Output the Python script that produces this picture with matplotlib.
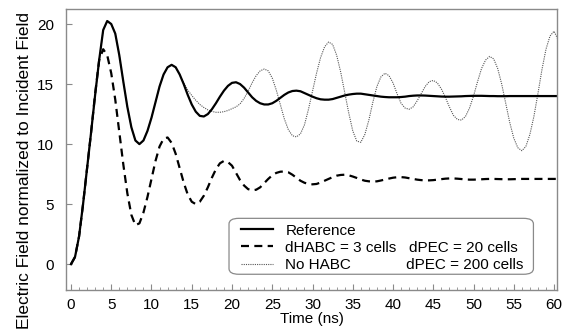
import matplotlib
matplotlib.use("Agg")
import matplotlib.pyplot as plt
from matplotlib.patches import FancyBboxPatch
from matplotlib.ticker import MultipleLocator

plt.rcParams['font.family'] = ['Liberation Sans', 'DejaVu Sans']
plt.rcParams['font.size'] = 11

# sample times (ns)
time_ns = [0.0, 0.5, 1.0, 1.5, 2.0, 2.5, 3.0, 3.5, 4.0, 4.5,
           5.0, 5.5, 6.0, 6.5, 7.0, 7.5, 8.0, 8.5, 9.0, 9.5,
           10.0, 10.5, 11.0, 11.5, 12.0, 12.5, 13.0, 13.5, 14.0, 14.5,
           15.0, 15.5, 16.0, 16.5, 17.0, 17.5, 18.0, 18.5, 19.0, 19.5,
           20.0, 20.5, 21.0, 21.5, 22.0, 22.5, 23.0, 23.5, 24.0, 24.5,
           25.0, 25.5, 26.0, 26.5, 27.0, 27.5, 28.0, 28.5, 29.0, 29.5,
           30.0, 30.5, 31.0, 31.5, 32.0, 32.5, 33.0, 33.5, 34.0, 34.5,
           35.0, 35.5, 36.0, 36.5, 37.0, 37.5, 38.0, 38.5, 39.0, 39.5,
           40.0, 40.5, 41.0, 41.5, 42.0, 42.5, 43.0, 43.5, 44.0, 44.5,
           45.0, 45.5, 46.0, 46.5, 47.0, 47.5, 48.0, 48.5, 49.0, 49.5,
           50.0, 50.5, 51.0, 51.5, 52.0, 52.5, 53.0, 53.5, 54.0, 54.5,
           55.0, 55.5, 56.0, 56.5, 57.0, 57.5, 58.0, 58.5, 59.0, 59.5,
           60.0, 60.5]

reference = [0.0, 0.6, 2.3, 5.0, 8.0, 11.0, 14.1, 17.0, 19.5, 20.25,
             20.0, 19.2, 17.4, 15.2, 13.1, 11.4, 10.3, 10.0, 10.3, 11.1,
             12.2, 13.5, 14.8, 15.8, 16.4, 16.6, 16.4, 15.8, 15.0, 14.1,
             13.3, 12.7, 12.35, 12.3, 12.5, 12.9, 13.4, 13.95, 14.45, 14.85,
             15.1, 15.15, 15.0, 14.7, 14.3, 13.9, 13.6, 13.4, 13.3, 13.3,
             13.4, 13.6, 13.85, 14.1, 14.3, 14.42, 14.45, 14.4, 14.25, 14.1,
             13.95, 13.82, 13.73, 13.7, 13.7, 13.75, 13.85, 13.95, 14.05, 14.12,
             14.17, 14.2, 14.2, 14.15, 14.1, 14.05, 14.0, 13.95, 13.92, 13.9,
             13.9, 13.9, 13.92, 13.95, 14.0, 14.03, 14.05, 14.05, 14.04, 14.02,
             14.0, 13.98, 13.96, 13.95, 13.95, 13.96, 13.97, 13.98, 14.0, 14.01,
             14.02, 14.02, 14.02, 14.01, 14.0, 14.0, 13.99, 13.99, 13.99, 14.0,
             14.0, 14.0, 14.0, 14.0, 14.0, 14.0, 14.0, 14.0, 14.0, 14.0,
             14.0, 14.0]

habc_3 = [0.0, 0.6, 2.3, 5.0, 8.0, 11.0, 14.2, 17.0, 17.9, 17.4,
          15.9, 13.7, 11.0, 8.3, 5.9, 4.1, 3.25, 3.4, 4.3, 5.6,
          7.1, 8.6, 9.8, 10.45, 10.55, 10.1, 9.2, 8.0, 6.8, 5.8,
          5.2, 5.0, 5.2, 5.7, 6.4, 7.2, 7.9, 8.4, 8.6, 8.5,
          8.2, 7.6, 7.0, 6.55, 6.25, 6.15, 6.2, 6.4, 6.75, 7.1,
          7.4, 7.6, 7.7, 7.72, 7.65, 7.45, 7.2, 6.95, 6.78, 6.68,
          6.65, 6.68, 6.8, 6.95, 7.1, 7.25, 7.37, 7.43, 7.45, 7.4,
          7.3, 7.18, 7.05, 6.95, 6.9, 6.88, 6.9, 6.97, 7.05, 7.13,
          7.2, 7.24, 7.25, 7.22, 7.16, 7.1, 7.04, 7.0, 6.98, 6.98,
          7.0, 7.04, 7.08, 7.12, 7.14, 7.14, 7.12, 7.09, 7.06, 7.04,
          7.04, 7.05, 7.07, 7.09, 7.1, 7.1, 7.09, 7.08, 7.07, 7.07,
          7.08, 7.09, 7.1, 7.1, 7.1, 7.1, 7.1, 7.1, 7.1, 7.1,
          7.1, 7.1]

no_habc = [0.0, 0.6, 2.3, 5.0, 8.0, 11.0, 14.1, 17.0, 19.5, 20.25,
           20.0, 19.2, 17.4, 15.2, 13.1, 11.4, 10.3, 10.0, 10.3, 11.1,
           12.2, 13.5, 14.8, 15.8, 16.4, 16.6, 16.4, 15.8, 15.1, 14.5,
           14.05, 13.65, 13.3, 13.05, 12.85, 12.72, 12.65, 12.65, 12.7, 12.8,
           12.95, 13.1, 13.35, 13.8, 14.4, 15.1, 15.7, 16.1, 16.25, 16.1,
           15.5, 14.5, 13.3, 12.1, 11.2, 10.7, 10.6, 10.85, 11.6, 12.9,
           14.4, 15.9, 17.2, 18.1, 18.5, 18.3, 17.4, 16.0, 14.3, 12.6,
           11.1, 10.25, 10.15, 10.8, 12.0, 13.5, 14.8, 15.6, 15.9, 15.7,
           15.1, 14.2, 13.4, 13.0, 12.9, 13.1, 13.6, 14.2, 14.8, 15.2,
           15.3, 15.1, 14.6, 13.9, 13.1, 12.4, 12.05, 12.0, 12.3, 13.0,
           14.0, 15.2, 16.3, 17.0, 17.3, 17.1, 16.3, 15.0, 13.4, 11.8,
           10.5, 9.7, 9.45, 9.8, 10.8, 12.3, 14.2, 16.2, 17.9, 19.0,
           19.4, 18.7]

labels = ["Reference",
          "dHABC = 3 cells   dPEC = 20 cells",
          "No HABC             dPEC = 200 cells"]

W, H = 565, 329
fig = plt.figure(figsize=(W / 100, H / 100), dpi=100)
ax = fig.add_axes([66 / W, (H - 290) / H, (557 - 66) / W, (290 - 9) / H])

l3, = ax.plot(time_ns, no_habc, color='#555555', lw=0.8, ls=(0, (1, 1)))
l2, = ax.plot(time_ns, habc_3, color='black', lw=1.6, ls=(0, (3.6, 2.4)))
l1, = ax.plot(time_ns, reference, color='black', lw=1.6)

ax.set_xlim(-0.62, 60.37)
ax.set_ylim(-2.15, 21.25)
ax.xaxis.set_major_locator(MultipleLocator(5))
ax.xaxis.set_minor_locator(MultipleLocator(1))
ax.yaxis.set_major_locator(MultipleLocator(5))

for s in ax.spines.values():
    s.set_color('#8a8a8a')
    s.set_linewidth(1.0)
ax.tick_params(axis='both', which='both', direction='in', color='#8a8a8a')
ax.tick_params(axis='x', which='major', length=4, pad=6)
ax.tick_params(axis='x', which='minor', length=2)
ax.tick_params(axis='y', which='major', length=4, pad=8.5)

ax.set_xlabel("Time (ns)", labelpad=0)
ax.set_ylabel("Electric Field normalized to Incident Field", fontsize=12.5)
ax.yaxis.set_label_coords(-0.07, 0.427)

# legend box drawn separately so its padding can differ from the text padding
box = FancyBboxPatch((0.332, 0.056), 0.62, 0.199, transform=ax.transAxes,
                     boxstyle="round,pad=0,rounding_size=0.02",
                     facecolor='white', edgecolor='#8a8a8a', lw=0.9, zorder=4)
ax.add_patch(box)
leg = ax.legend([l1, l2, l3], labels, loc='upper left',
                bbox_to_anchor=(0.3564, 0.2366), frameon=False,
                borderpad=0, borderaxespad=0, handlelength=2.1,
                handletextpad=0.8, labelspacing=0.21)
leg.set_zorder(5)

fig.savefig("out.png", dpi=100)
